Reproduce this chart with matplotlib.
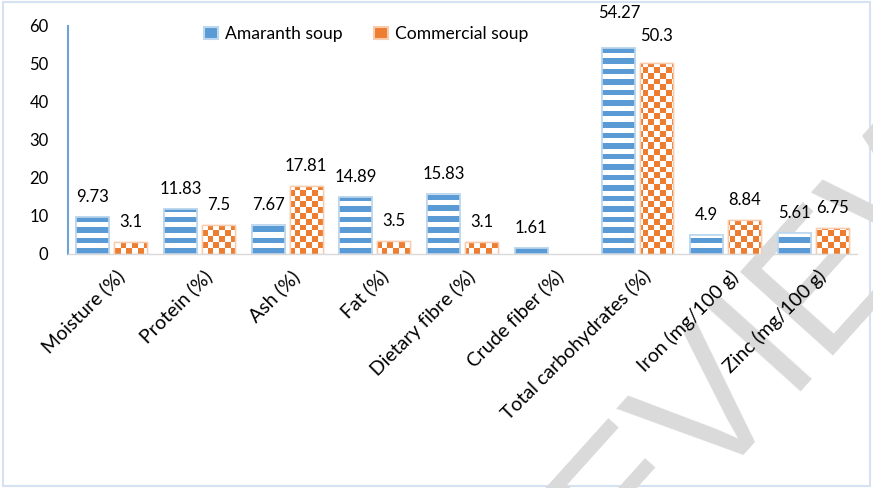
import numpy as np
import matplotlib
matplotlib.use("Agg")
import matplotlib.pyplot as plt
from matplotlib.patches import Patch, Rectangle
import matplotlib.transforms as mtrans

categories = ["Moisture (%)", "Protein (%)", "Ash (%)", "Fat (%)", "Dietary fibre (%)",
              "Crude fiber (%)", "Total carbohydrates (%)", "Iron (mg/100 g)", "Zinc (mg/100 g)"]
amaranth = [9.73, 11.83, 7.67, 14.89, 15.83, 1.61, 54.27, 4.9, 5.61]
commercial = [3.1, 7.5, 17.81, 3.5, 3.1, np.nan, 50.3, 8.84, 6.75]
amaranth_labels = ["9.73", "11.83", "7.67", "14.89", "15.83", "1.61", "54.27", "4.9", "5.61"]
commercial_labels = ["3.1", "7.5", "17.81", "3.5", "3.1", "", "50.3", "8.84", "6.75"]
yticks = [0, 10, 20, 30, 40, 50, 60]

BLUE = "#5B9BD5"
BLUE_EDGE = "#BDD7EE"
ORANGE = "#ED7D31"
ORANGE_EDGE = "#F8CBAD"

plt.rcParams['font.family'] = ['Lato', 'DejaVu Sans']

W, H = 873, 488
fig = plt.figure(figsize=(W / 100, H / 100), dpi=100)
fig.patch.set_facecolor("white")

# page border
fig.patches.append(Rectangle((0.004, 0.005), 0.993, 0.99, transform=fig.transFigure,
                             fill=False, edgecolor="#D5E2F2", lw=1.5, zorder=-5))

# watermark
fig.text(740 / W, 1 - 372 / H, "REVIEW", rotation=48, fontsize=130, color="#DADADA",
         family="Liberation Sans", ha="center", va="center", rotation_mode="anchor", zorder=-2)

ax_left, ax_right, ax_bot, ax_top = 68, 857, 254, 26
ax = fig.add_axes([ax_left / W, 1 - ax_bot / H, (ax_right - ax_left) / W, (ax_bot - ax_top) / H])
ax.patch.set_visible(False)

x = np.arange(len(categories))
bw = 0.376
off = 0.217

ax.set_xlim(-0.5, len(categories) - 0.5)
ax.set_ylim(0, 60)

bars_a = ax.bar(x - off, amaranth, bw, facecolor="white", edgecolor=BLUE_EDGE, lw=1.2, zorder=2)
bars_c = ax.bar(x + off, commercial, bw, facecolor="white", edgecolor=ORANGE_EDGE, lw=1.0, zorder=2)

# pixel-aligned patterns covering the axes, clipped to each bar
pw, ph = ax_right - ax_left, ax_bot - ax_top
rows = np.arange(ph)[::-1]  # from bottom
cols = np.arange(pw)
stripe = np.repeat(((rows // 5.25) % 2 == 0)[:, None], pw, axis=1)
checker = ((((rows[:, None] // 5.8) + (cols[None, :] // 5.8)) % 2) == 0)

def rgba(mask, color):
    c = np.array(matplotlib.colors.to_rgba(color))
    img = np.ones((ph, pw, 4))
    img[mask] = c
    return img

stripe_img = rgba(stripe, BLUE)
checker_img = rgba(checker, ORANGE)
ext = (-0.5, len(categories) - 0.5, 0, 60)

for b in bars_a:
    im = ax.imshow(stripe_img, extent=ext, interpolation="nearest", aspect="auto", zorder=2.5)
    im.set_clip_path(b)
for b in bars_c:
    if np.isnan(b.get_height()):
        continue
    im = ax.imshow(checker_img, extent=ext, interpolation="nearest", aspect="auto", zorder=2.5)
    im.set_clip_path(b)

# redraw edges on top
ax.bar(x - off, amaranth, bw, fill=False, edgecolor=BLUE_EDGE, lw=1.2, zorder=3)
ax.bar(x + off, commercial, bw, fill=False, edgecolor=ORANGE_EDGE, lw=1.0, zorder=3)

# data labels
extra = {("a", 6): 15, ("c", 6): 7}
for i in range(len(categories)):
    for key, vals, labs, dx in (("a", amaranth, amaranth_labels, -off), ("c", commercial, commercial_labels, off)):
        if labs[i] == "":
            continue
        pad = 20 + extra.get((key, i), 0)
        ax.annotate(labs[i], (x[i] + dx, vals[i]), xytext=(0, pad * 0.72), textcoords="offset points",
                    ha="center", va="center", fontsize=12, color="#000000", zorder=4)

ax.set_yticks(yticks)
ax.set_yticklabels([str(v) for v in yticks], fontsize=12)
ax.set_xticks(x)
ax.set_xticklabels(categories, rotation=45, ha="right", va="center", rotation_mode="anchor", fontsize=14)
ax.tick_params(axis="both", length=0)
ax.tick_params(axis="y", pad=14)
ax.tick_params(axis="x", pad=14)
for lab in ax.get_xticklabels():
    lab.set_transform(lab.get_transform() + mtrans.ScaledTranslation(10 / 100, 0, fig.dpi_scale_trans))

for s in ("top", "right"):
    ax.spines[s].set_visible(False)
ax.spines["left"].set_color("#6FA3D8")
ax.spines["left"].set_linewidth(1.5)
ax.spines["bottom"].set_color("#D9D9D9")
ax.spines["bottom"].set_linewidth(1.0)

handles = [Patch(facecolor=BLUE, edgecolor=BLUE_EDGE, lw=1.5),
           Patch(facecolor=ORANGE, edgecolor=ORANGE_EDGE, lw=1.5)]
leg = ax.legend(handles, ["Amaranth soup", "Commercial soup"], loc="upper left",
                bbox_to_anchor=(120 / pw, 1.07), ncol=2, frameon=False, fontsize=12.6,
                handlelength=0.8, handleheight=0.7, handletextpad=0.4, columnspacing=1.8)

fig.savefig("out.png", dpi=100, facecolor="white")
